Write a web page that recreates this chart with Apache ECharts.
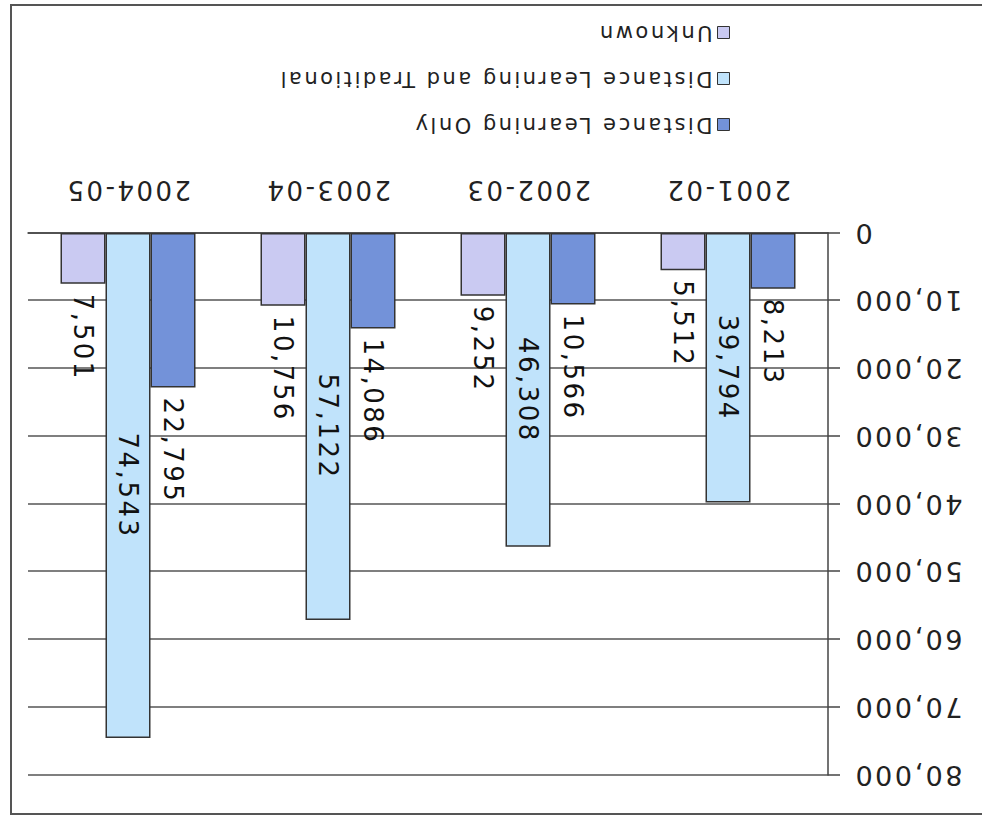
<!DOCTYPE html>
<html>
<head>
<meta charset="utf-8">
<title>Distance Learning Enrollment</title>
<script src="https://cdn.jsdelivr.net/npm/echarts@6/dist/echarts.min.js"></script>
<style>
  html, body { margin: 0; padding: 0; background: #fff; overflow: hidden; }
  /* the whole figure is shown turned upside down */
  #wrap { width: 982px; height: 816px; transform: rotate(180deg); transform-origin: 50% 50%; }
  #chart { width: 982px; height: 816px; }
  #chart text { letter-spacing: 2.5px; }
</style>
</head>
<body>
<div id="wrap"><div id="chart"></div></div>
<script>
// School years on the category axis
const categories = ['2001-02', '2002-03', '2003-04', '2004-05'];

// Enrollments per year
const distanceOnly = [8213, 10566, 14086, 22795];
const distanceAndTraditional = [39794, 46308, 57122, 74543];
const unknown = [5512, 9252, 10756, 7501];

const seriesNames = ['Distance Learning Only', 'Distance Learning and Traditional', 'Unknown'];

const fmt = v => Number(v).toLocaleString('en-US');

const chart = echarts.init(document.getElementById('chart'), null, { renderer: 'svg' });

const outsideLabel = {
  show: true,
  position: 'top',
  rotate: 90,
  align: 'left',
  verticalAlign: 'middle',
  distance: 10,
  fontSize: 26,
  color: '#111',
  formatter: p => fmt(p.value)
};

const insideLabel = {
  show: true,
  position: 'inside',
  rotate: 90,
  align: 'center',
  verticalAlign: 'middle',
  fontSize: 26,
  color: '#111',
  formatter: p => fmt(p.value)
};

const barBorder = { borderColor: '#333', borderWidth: 1.5 };

chart.setOption({
  animation: false,
  backgroundColor: '#fff',
  textStyle: { fontFamily: 'DejaVu Sans' },
  graphic: [{
    type: 'rect',
    silent: true,
    z: -1,
    shape: { x: -10, y: 2, width: 981, height: 809 },
    style: { fill: null, stroke: '#555', lineWidth: 2 }
  }],
  legend: {
    orient: 'vertical',
    left: 252,
    top: 681,
    padding: 0,
    itemWidth: 12,
    itemHeight: 12,
    itemGap: 25,
    icon: 'rect',
    itemStyle: { borderColor: '#333', borderWidth: 1 },
    textStyle: { fontSize: 21, color: '#222' },
    data: seriesNames
  },
  grid: { left: 154, right: 28, top: 41, bottom: 233 },
  xAxis: {
    type: 'category',
    data: categories,
    axisLine: { lineStyle: { color: '#444', width: 1.5 } },
    axisTick: { length: 12, lineStyle: { color: '#444', width: 1.5 } },
    axisLabel: { fontSize: 26, color: '#222', margin: 30 }
  },
  yAxis: {
    type: 'value',
    min: 0,
    max: 80000,
    interval: 10000,
    axisLine: { show: true, lineStyle: { color: '#444', width: 1.5 } },
    axisTick: { show: true, length: 12, lineStyle: { color: '#444', width: 1.5 } },
    splitLine: { lineStyle: { color: '#555', width: 1.5 } },
    axisLabel: { fontSize: 27, color: '#222', margin: 25, formatter: v => fmt(v) }
  },
  series: [
    {
      name: seriesNames[0],
      type: 'bar',
      data: distanceOnly,
      barWidth: 45,
      barGap: '0%',
      itemStyle: Object.assign({ color: '#7392d9' }, barBorder),
      label: outsideLabel
    },
    {
      name: seriesNames[1],
      type: 'bar',
      data: distanceAndTraditional,
      barWidth: 45,
      barGap: '0%',
      itemStyle: Object.assign({ color: '#c0e3fb' }, barBorder),
      label: insideLabel
    },
    {
      name: seriesNames[2],
      type: 'bar',
      data: unknown,
      barWidth: 45,
      barGap: '0%',
      itemStyle: Object.assign({ color: '#cacaf2' }, barBorder),
      label: outsideLabel
    }
  ]
});
</script>
</body>
</html>
